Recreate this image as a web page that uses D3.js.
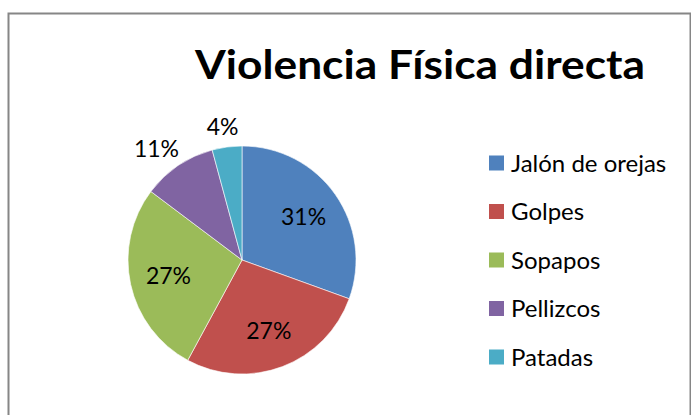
<!DOCTYPE html>
<html>
<head>
<meta charset="utf-8">
<script src="https://cdn.jsdelivr.net/npm/d3@7"></script>
<style>
  body { margin: 0; background: #fff; }
  svg { display: block; font-family: Lato, "Open Sans", sans-serif; }
</style>
</head>
<body>
<svg width="691" height="415"></svg>
<script>
const width = 691, height = 415;

// data
const categories = ["Jalón de orejas", "Golpes", "Sopapos", "Pellizcos", "Patadas"];
const values = [29, 26, 26, 10, 4];
const colors = ["#4f81bd", "#c0504d", "#9bbb59", "#8064a2", "#4bacc6"];
const title = "Violencia Física directa";

const svg = d3.select("svg").attr("viewBox", [0, 0, width, height]);

// chart border (right/bottom edges fall outside the picture)
svg.append("rect")
  .attr("x", 8.5).attr("y", 13.5)
  .attr("width", 682).attr("height", 420)
  .attr("fill", "#fff")
  .attr("stroke", "#868686")
  .attr("stroke-width", 2);

// title
svg.append("text")
  .attr("x", 420).attr("y", 79)
  .attr("text-anchor", "middle")
  .attr("font-weight", "bold")
  .style("font-size", "40px")
  .attr("textLength", 450)
  .attr("lengthAdjust", "spacingAndGlyphs")
  .attr("fill", "#000")
  .text(title);

// pie
const cx = 242, cy = 260, r = 114;
const total = d3.sum(values);
const pie = d3.pie().sort(null).value(d => d.v);
const arcs = pie(categories.map((c, i) => ({ c, v: values[i], col: colors[i] })));
const arc = d3.arc().innerRadius(0).outerRadius(r);

const g = svg.append("g").attr("transform", `translate(${cx},${cy})`);
g.selectAll("path")
  .data(arcs)
  .join("path")
  .attr("d", arc)
  .attr("fill", d => d.data.col)
  .attr("stroke", "#fff")
  .attr("stroke-width", 0.6);

// labels: inside for big slices, outside for small ones
const inner = d3.arc().innerRadius(r * 0.66).outerRadius(r * 0.66);
const outer = d3.arc().innerRadius(r * 1.18).outerRadius(r * 1.18);
const pct = d => Math.round(d.data.v / total * 100) + "%";
g.selectAll("text.lbl")
  .data(arcs)
  .join("text")
  .attr("class", "lbl")
  .attr("transform", d => {
    const frac = d.data.v / total;
    if (frac > 0.15) {
      const [x, y] = inner.centroid(d);
      return `translate(${x},${y})`;
    }
    const [x, y] = outer.centroid(d);
    const a = (d.startAngle + d.endAngle) / 2;
    const w = pct(d).length * 12;
    return `translate(${x + Math.sin(a) * w / 2},${y})`;
  })
  .attr("text-anchor", "middle")
  .attr("dy", "0.36em")
  .style("font-size", "23px")
  .attr("fill", "#000")
  .text(pct);

// legend
const legend = svg.append("g").attr("transform", "translate(489,163)");
const row = legend.selectAll("g")
  .data(categories)
  .join("g")
  .attr("transform", (d, i) => `translate(0,${i * 48.5})`);
row.append("rect")
  .attr("x", 0).attr("y", -7.5)
  .attr("width", 15).attr("height", 15)
  .attr("fill", (d, i) => colors[i]);
row.append("text")
  .attr("x", 22).attr("dy", "0.36em")
  .style("font-size", "24px")
  .attr("fill", "#000")
  .text(d => d);
</script>
</body>
</html>
